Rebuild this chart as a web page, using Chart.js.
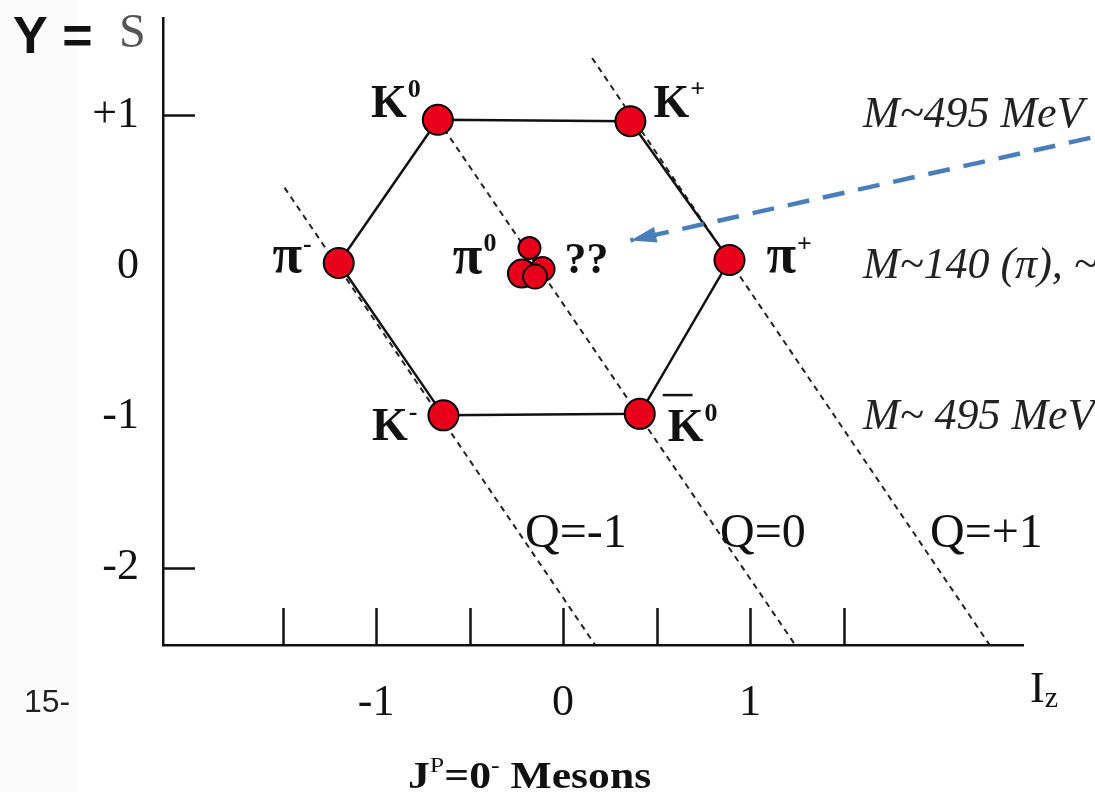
<!DOCTYPE html>
<html>
<head>
<meta charset="utf-8">
<script src="https://cdn.jsdelivr.net/npm/chart.js@4"></script>
<style>
  html, body { margin: 0; padding: 0; background: #fff; }
  #chart { display: block; }
</style>
</head>
<body>
<canvas id="chart" width="1095" height="792"></canvas>
<script>
// meson octet (Iz across, S up)
const particleNames = ["K", "K", "π", "π", "K", "K"];
const particleCharges = ["0", "+", "-", "+", "-", "0"];
const particleIz = [-0.67, 0.36, -1.2, 0.89, -0.64, 0.41];
const particleS = [0.97, 0.96, 0.02, 0.04, -0.99, -0.98];
const hexagonOrder = [0, 1, 3, 5, 4, 2, 0];

// the pi0 blob is a few overlapping dots
const pi0Iz = [-0.18, -0.22, -0.11, -0.15];
const pi0S = [0.12, -0.05, -0.02, -0.07];

const chargeLabels = ["Q=-1", "Q=0", "Q=+1"];
const chargeLineIz = [[-1.49, 0.17], [-0.67, 1.24], [0.155, 2.28]];
const chargeLineS = [[0.52, -2.51], [0.97, -2.51], [1.38, -2.51]];

const massLabels = ["M~495 MeV", "M~140 (π), ~", "M~ 495 MeV"];
const massRowS = [1, 0, -1];

const arrowIz = [2.82, 0.36];
const arrowS = [0.85, 0.17];

const xTicks = [-1.5, -1, -0.5, 0, 0.5, 1, 1.5];
const yTicks = [1, 0, -1, -2];
const yTickMarks = [1, -2];

const serif = '"Liberation Serif", "Times New Roman", serif';
const sans = '"Liberation Sans", Arial, sans-serif';
const red = "#e8001a";
const ink = "#111";

const pts = (xs, ys) => xs.map((x, i) => ({ x: x, y: ys[i] }));

// label layout next to each dot: side, dx, baseline dy, bar
const labelPlace = [
  { side: "right", dx: -17, dy: -3 },
  { side: "left", dx: 23, dy: -4 },
  { side: "right", dx: -27, dy: 9 },
  { side: "left", dx: 37, dy: 12 },
  { side: "right", dx: -26, dy: 25 },
  { side: "left", dx: 28, dy: 27, bar: true }
];
const chargeLabelX = [525, 720, 930];

function drawRuns(ctx, runs, x, y) {
  let cx = x;
  runs.forEach(r => {
    ctx.font = r.font;
    ctx.fillText(r.t, cx, y + (r.dy || 0));
    cx += ctx.measureText(r.t).width + (r.gap || 0);
  });
  return cx;
}

function runsWidth(ctx, runs) {
  let w = 0;
  runs.forEach(r => { ctx.font = r.font; w += ctx.measureText(r.t).width + (r.gap || 0); });
  return w;
}

const annotations = {
  id: "annotations",
  beforeDraw(chart) {
    const ctx = chart.ctx;
    ctx.save();
    ctx.fillStyle = "#fff";
    ctx.fillRect(0, 0, chart.width, chart.height);
    ctx.fillStyle = "#fbfbfb";
    ctx.fillRect(0, 0, 77, chart.height);
    ctx.restore();
  },
  afterDraw(chart) {
    const ctx = chart.ctx;
    const xs = chart.scales.x, ys = chart.scales.y;
    const area = chart.chartArea;
    ctx.save();
    ctx.textAlign = "left";
    ctx.textBaseline = "alphabetic";

    // inward tick marks
    ctx.strokeStyle = ink;
    ctx.lineWidth = 2.5;
    xTicks.forEach(v => {
      const px = Math.round(xs.getPixelForValue(v)) + 0.5;
      ctx.beginPath(); ctx.moveTo(px, area.bottom); ctx.lineTo(px, area.bottom - 37); ctx.stroke();
    });
    yTickMarks.forEach(v => {
      const py = Math.round(ys.getPixelForValue(v)) + 0.5;
      ctx.beginPath(); ctx.moveTo(area.left, py); ctx.lineTo(area.left + 32, py); ctx.stroke();
    });

    // arrow head on the blue dashed pointer
    const tx = xs.getPixelForValue(arrowIz[1]), ty = ys.getPixelForValue(arrowS[1]);
    const fx = xs.getPixelForValue(arrowIz[0]), fy = ys.getPixelForValue(arrowS[0]);
    const ang = Math.atan2(ty - fy, tx - fx);
    ctx.fillStyle = "#4a7ebb";
    ctx.beginPath();
    ctx.moveTo(tx, ty);
    ctx.lineTo(tx - 26 * Math.cos(ang) + 8 * Math.sin(ang), ty - 26 * Math.sin(ang) - 8 * Math.cos(ang));
    ctx.lineTo(tx - 26 * Math.cos(ang) - 8 * Math.sin(ang), ty - 26 * Math.sin(ang) + 8 * Math.cos(ang));
    ctx.closePath();
    ctx.fill();

    // particle names
    ctx.fillStyle = ink;
    const small = "bold 26px " + serif;
    const meta = chart.getDatasetMeta(2);
    particleNames.forEach((name, i) => {
      const p = meta.data[i], lp = labelPlace[i];
      const big = (name === "π" ? "bold 54px " : "bold 46px ") + serif;
      const runs = [{ t: name, font: big, gap: 1 }, { t: particleCharges[i], font: small, dy: -20 }];
      const w = runsWidth(ctx, runs);
      const x0 = lp.side === "right" ? p.x + lp.dx - w : p.x + lp.dx;
      drawRuns(ctx, runs, x0, p.y + lp.dy);
      if (lp.bar) {
        ctx.font = big;
        const kw = ctx.measureText(name).width;
        ctx.fillRect(x0 - 5, p.y + lp.dy - 47, kw - 6, 2.5);
      }
    });

    // pi0 and the question marks beside the blob
    const c = chart.getDatasetMeta(3).data[0];
    const pi0Runs = [{ t: "π", font: "bold 54px " + serif, gap: 1 }, { t: "0", font: small, dy: -22 }];
    drawRuns(ctx, pi0Runs, c.x - 33 - runsWidth(ctx, pi0Runs), c.y + 25);
    ctx.font = "bold 44px " + serif;
    ctx.fillText("??", c.x + 35, c.y + 25);

    // charge lines
    ctx.font = "48px " + serif;
    chargeLabels.forEach((t, i) => ctx.fillText(t, chargeLabelX[i], 547));

    // masses on the right
    ctx.font = "italic 44px " + serif;
    ctx.fillStyle = "#222";
    massLabels.forEach((t, i) => ctx.fillText(t, 863, ys.getPixelForValue(massRowS[i]) + 12));

    // axis names
    ctx.fillStyle = ink;
    ctx.font = "bold 52px " + sans;
    ctx.fillText("Y =", 13, 53);
    ctx.fillStyle = "#555";
    ctx.font = "48px " + serif;
    ctx.fillText("S", 119, 47);
    ctx.fillStyle = ink;
    drawRuns(ctx, [{ t: "I", font: "44px " + serif }, { t: "z", font: "30px " + serif, dy: 5 }], 1030, 702);

    ctx.fillStyle = "#222";
    ctx.font = "32px " + sans;
    ctx.fillText("15-", 24, 712);

    // bottom caption, a little stretched like the slide
    ctx.fillStyle = ink;
    ctx.save();
    ctx.translate(408, 788);
    ctx.scale(1.18, 1);
    drawRuns(ctx, [
      { t: "J", font: "bold 37px " + serif },
      { t: "P", font: "22px " + serif, dy: -16 },
      { t: "=0", font: "bold 37px " + serif },
      { t: "-", font: "bold 22px " + serif, dy: -16 },
      { t: " Mesons", font: "bold 37px " + serif }
    ], 0, 0);
    ctx.restore();

    ctx.restore();
  }
};

const ctx = document.getElementById("chart").getContext("2d");
const chart = new Chart(ctx, {
  type: "scatter",
  data: {
    datasets: [
      {
        label: "arrow",
        data: pts(arrowIz, arrowS),
        showLine: true,
        borderColor: "#4a7ebb",
        borderWidth: 4.5,
        borderDash: [22, 14],
        pointRadius: 0,
        clip: false,
        order: 0
      },
      {
        label: "octet",
        data: hexagonOrder.map(i => ({ x: particleIz[i], y: particleS[i] })),
        showLine: true,
        borderColor: ink,
        borderWidth: 2.5,
        pointRadius: 0,
        order: 2
      },
      {
        label: "mesons",
        data: pts(particleIz, particleS),
        backgroundColor: red,
        borderColor: "#000",
        borderWidth: 2,
        pointRadius: 15,
        order: 1
      },
      {
        label: "pi0",
        data: pts(pi0Iz, pi0S),
        backgroundColor: red,
        borderColor: "#000",
        borderWidth: 2,
        pointRadius: [11, 14, 12, 12],
        order: 1
      },
      ...chargeLabels.map((t, i) => ({
        label: t,
        data: pts(chargeLineIz[i], chargeLineS[i]),
        showLine: true,
        borderColor: "#222",
        borderWidth: 2,
        borderDash: [6, 5],
        pointRadius: 0,
        order: 3
      }))
    ]
  },
  options: {
    responsive: false,
    animation: false,
    events: [],
    layout: { padding: { top: 18, right: 72, left: 0, bottom: 0 } },
    plugins: { legend: { display: false }, tooltip: { enabled: false } },
    scales: {
      x: {
        type: "linear",
        min: -2.14,
        max: 2.46,
        afterBuildTicks: s => { s.ticks = xTicks.map(v => ({ value: v })); },
        afterFit: s => { s.height = 147; s.paddingLeft = 0; s.paddingRight = 0; },
        grid: { display: false },
        border: { display: true, color: ink, width: 2.5 },
        ticks: {
          autoSkip: false,
          maxRotation: 0,
          padding: 24,
          color: ink,
          font: { family: serif, size: 44 },
          callback: v => Number.isInteger(v) ? String(v) : ""
        }
      },
      y: {
        type: "linear",
        min: -2.513,
        max: 1.645,
        afterBuildTicks: s => { s.ticks = yTicks.map(v => ({ value: v })); },
        afterFit: s => { s.width = 163; s.paddingTop = 0; s.paddingBottom = 0; },
        grid: { display: false },
        border: { display: true, color: ink, width: 2.5 },
        ticks: {
          padding: 16,
          color: ink,
          font: { family: serif, size: 44 },
          callback: v => v > 0 ? "+" + v : String(v)
        }
      }
    }
  },
  plugins: [annotations]
});
</script>
</body>
</html>
